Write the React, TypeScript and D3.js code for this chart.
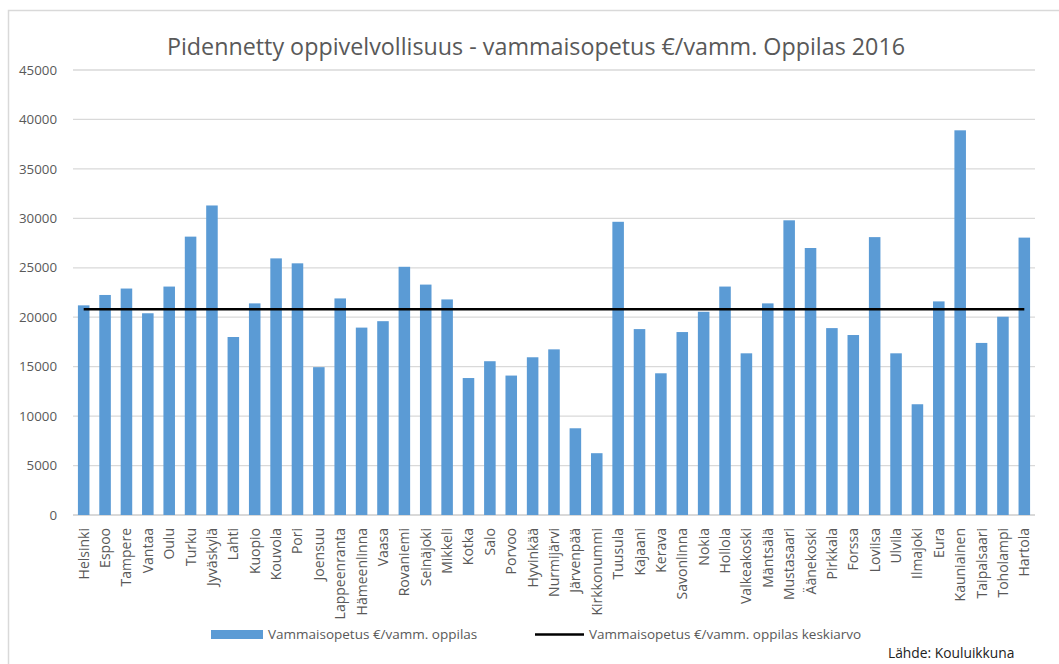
import React from "react";
import * as d3 from "d3";

const cities = [
  "Helsinki", "Espoo", "Tampere", "Vantaa", "Oulu", "Turku", "Jyväskylä", "Lahti",
  "Kuopio", "Kouvola", "Pori", "Joensuu", "Lappeenranta", "Hämeenlinna", "Vaasa",
  "Rovaniemi", "Seinäjoki", "Mikkeli", "Kotka", "Salo", "Porvoo", "Hyvinkää",
  "Nurmijärvi", "Järvenpää", "Kirkkonummi", "Tuusula", "Kajaani", "Kerava",
  "Savonlinna", "Nokia", "Hollola", "Valkeakoski", "Mäntsälä", "Mustasaari",
  "Äänekoski", "Pirkkala", "Forssa", "Loviisa", "Ulvila", "Ilmajoki", "Eura",
  "Kauniainen", "Taipalsaari", "Toholampi", "Hartola",
];

const costPerPupil = [
  21200, 22250, 22900, 20400, 23100, 28150, 31300, 18000,
  21400, 25950, 25450, 14950, 21900, 18950, 19600,
  25100, 23300, 21800, 13850, 15550, 14100, 15950,
  16750, 8770, 6250, 29650, 18800, 14330,
  18500, 20550, 23100, 16350, 21400, 29800,
  27000, 18900, 18200, 28100, 16350, 11200, 21600,
  38900, 17400, 20050, 28050,
];

const average = 20800;
const yTicks = [0, 5000, 10000, 15000, 20000, 25000, 30000, 35000, 40000, 45000];

const title = "Pidennetty oppivelvollisuus - vammaisopetus €/vamm. Oppilas 2016";
const barLabel = "Vammaisopetus €/vamm. oppilas";
const lineLabel = "Vammaisopetus €/vamm. oppilas keskiarvo";
const source = "Lähde: Kouluikkuna";

const W = 1059;
const H = 664;
const font = "'Open Sans', sans-serif";
const grey = "#595959";
const blue = "#5b9bd5";

export default function App() {
  const x = d3.scaleBand<string>().domain(cities).range([73, 1035]).paddingInner(0.46).paddingOuter(0.23);
  const y = d3.scaleLinear().domain([0, 45000]).range([515, 70]);

  const first = x(cities[0])! + x.bandwidth() / 2;
  const last = x(cities[cities.length - 1])! + x.bandwidth() / 2;

  return (
    <svg width={W} height={H} style={{ position: "absolute", left: 0, top: 0, background: "#fff" }} fontFamily={font}>
      {/* chart frame, cropped at right and bottom */}
      <path d={`M8.5,${H} V10.5 H${W}`} fill="none" stroke="#d9d9d9" strokeWidth={1.5} />

      <text x={536} y={55} textAnchor="middle" fontSize={23.3} fill={grey}>{title}</text>

      {yTicks.map((t) => (
        <g key={t}>
          <line x1={73} x2={1035} y1={y(t)} y2={y(t)} stroke="#d9d9d9" strokeWidth={t === 0 ? 2 : 1.3} />
          <text x={57} y={y(t)} dy="0.35em" textAnchor="end" fontSize={13.3} fill={grey}>{t}</text>
        </g>
      ))}

      {cities.map((c, i) => (
        <rect key={c} x={x(c)} y={y(costPerPupil[i])} width={x.bandwidth()} height={y(0) - y(costPerPupil[i])} fill={blue} />
      ))}

      <line x1={first} x2={last} y1={y(average)} y2={y(average)} stroke="#000" strokeWidth={2.5} />

      {cities.map((c) => {
        const cx = x(c)! + x.bandwidth() / 2;
        return (
          <text key={c} transform={`translate(${cx + 5},528) rotate(-90)`} textAnchor="end" fontSize={14} fill={grey}>{c}</text>
        );
      })}

      <rect x={211} y={630} width={52} height={9} fill={blue} />
      <text x={268} y={634.5} dy="0.35em" fontSize={13.5} fill={grey}>{barLabel}</text>
      <line x1={535} x2={584} y1={634.5} y2={634.5} stroke="#000" strokeWidth={2.5} />
      <text x={589} y={634.5} dy="0.35em" fontSize={13.5} fill={grey}>{lineLabel}</text>

      <text x={888} y={658} fontSize={13.8} fill="#222">{source}</text>
    </svg>
  );
}
